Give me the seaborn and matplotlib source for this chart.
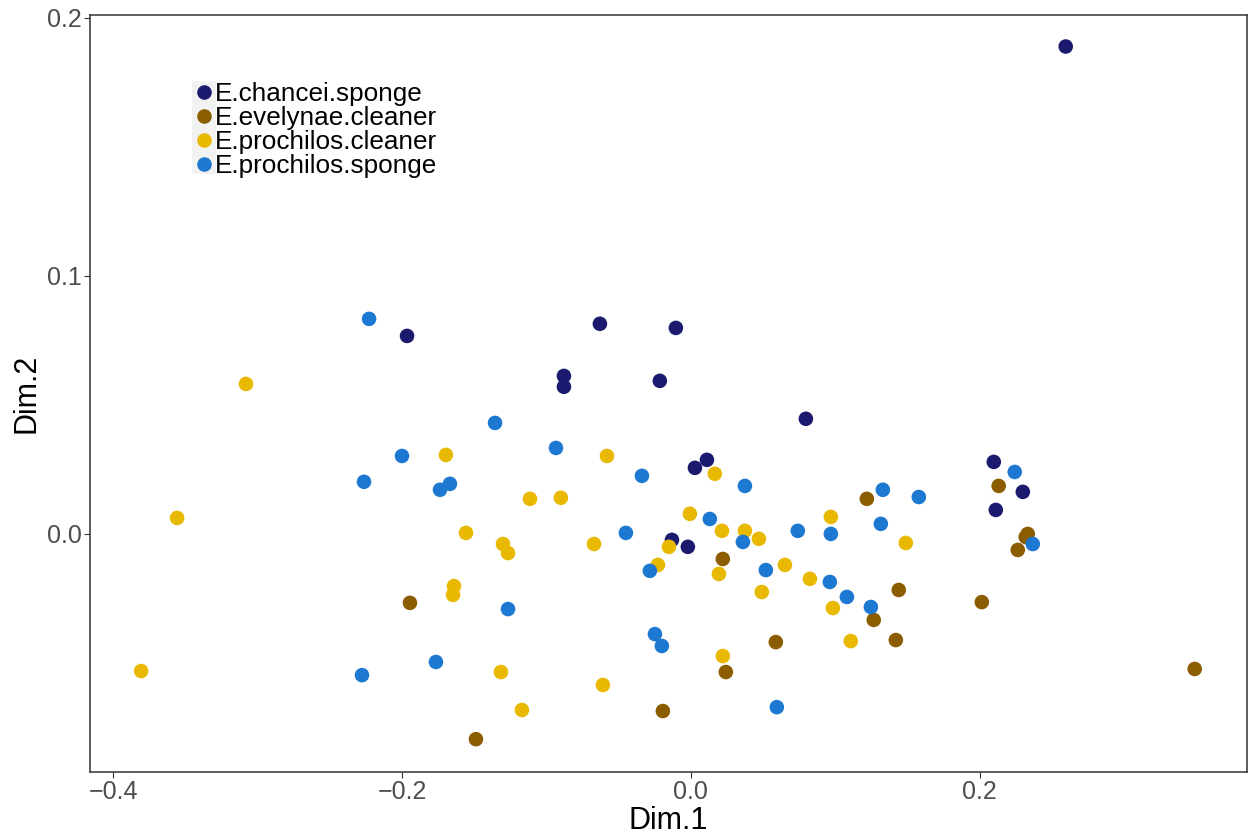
import pandas as pd
import matplotlib
matplotlib.use("Agg")
import matplotlib.pyplot as plt
import seaborn as sns
from matplotlib.patches import Rectangle

groups = ["E.chancei.sponge", "E.evelynae.cleaner", "E.prochilos.cleaner", "E.prochilos.sponge"]
colors = ["#1B1A6F", "#8C5C00", "#E8B900", "#1C78D0"]

chancei_x = [0.2595, -0.1965, -0.0630, -0.0104, -0.0879, -0.0879, -0.0215, 0.0796,
             0.0111, 0.0028, 0.2097, 0.2298, 0.2111, -0.0131, -0.0021]
chancei_y = [0.1888, 0.0767, 0.0814, 0.0798, 0.0612, 0.0570, 0.0593, 0.0446,
             0.0287, 0.0256, 0.0279, 0.0163, 0.0093, -0.0023, -0.0050]

evelynae_x = [0.3488, -0.1945, -0.1488, -0.0194, 0.0221, 0.0242, 0.0588, 0.1218,
              0.1439, 0.1266, 0.1419, 0.2014, 0.2131, 0.2332, 0.2318, 0.2263]
evelynae_y = [-0.0523, -0.0267, -0.0795, -0.0686, -0.0097, -0.0535, -0.0419, 0.0136,
              -0.0217, -0.0333, -0.0411, -0.0264, 0.0186, 0.0000, -0.0012, -0.0062]

pro_cleaner_x = [-0.3806, -0.3557, -0.3080, -0.1696, -0.1557, -0.1301, -0.1266, -0.1114,
                 -0.0900, -0.0581, -0.1640, -0.1647, -0.0671, -0.1315, -0.1170, -0.0609,
                 0.0166, -0.0007, 0.0215, -0.0152, -0.0228, 0.0194, 0.0221, 0.0374,
                 0.0471, 0.0651, 0.0491, 0.0824, 0.0969, 0.0983, 0.1107, 0.1488]
pro_cleaner_y = [-0.0531, 0.0062, 0.0581, 0.0306, 0.0004, -0.0039, -0.0074, 0.0136,
                 0.0140, 0.0302, -0.0202, -0.0236, -0.0039, -0.0535, -0.0682, -0.0585,
                 0.0233, 0.0078, 0.0012, -0.0050, -0.0120, -0.0155, -0.0473, 0.0012,
                 -0.0019, -0.0120, -0.0225, -0.0174, 0.0066, -0.0287, -0.0415, -0.0035]

pro_sponge_x = [-0.2228, -0.2263, -0.2000, -0.2277, -0.1356, -0.0934, -0.1668, -0.1737,
                -0.0339, 0.0374, -0.0450, 0.0131, 0.0360, -0.0284, -0.1266, -0.1765,
                -0.0249, -0.0201, 0.0740, 0.0969, 0.1329, 0.1578, 0.1315, 0.0519,
                0.0962, 0.1080, 0.1246, 0.0595, 0.2242, 0.2367]
pro_sponge_y = [0.0833, 0.0202, 0.0302, -0.0547, 0.0430, 0.0333, 0.0194, 0.0171,
                0.0225, 0.0186, 0.0004, 0.0058, -0.0031, -0.0143, -0.0291, -0.0496,
                -0.0388, -0.0434, 0.0012, 0.0000, 0.0171, 0.0143, 0.0039, -0.0140,
                -0.0186, -0.0244, -0.0283, -0.0671, 0.0240, -0.0039]

xs = [chancei_x, evelynae_x, pro_cleaner_x, pro_sponge_x]
ys = [chancei_y, evelynae_y, pro_cleaner_y, pro_sponge_y]
df = pd.concat([pd.DataFrame({"Dim.1": x, "Dim.2": y, "group": g})
                for g, x, y in zip(groups, xs, ys)], ignore_index=True)

sns.set_style("white")
plt.rcParams["font.family"] = ["Liberation Sans", "DejaVu Sans"]

fig = plt.figure(figsize=(12.5, 8.39), dpi=100)
ax = fig.add_axes([0.072, 0.0799, 0.9256, 0.9022])

sns.scatterplot(data=df, x="Dim.1", y="Dim.2", hue="group", hue_order=groups,
                palette=colors, s=110, linewidth=0, ax=ax)

ax.set_xlim(-0.416, 0.385)
ax.set_ylim(-0.0922, 0.201)
ax.set_xticks([-0.4, -0.2, 0.0, 0.2])
ax.set_yticks([0.0, 0.1, 0.2])
ax.set_xticklabels(["\u22120.4", "\u22120.2", "0.0", "0.2"])
ax.set_yticklabels(["0.0", "0.1", "0.2"])
ax.tick_params(axis="both", direction="out", length=4, width=0.8, color="#333333",
               labelsize=18, labelcolor="#4D4D4D", pad=2, left=True, bottom=True)
for sp in ax.spines.values():
    sp.set_color("#333333")
    sp.set_linewidth(1.1)
ax.set_xlabel("Dim.1", fontsize=22, labelpad=1, color="black")
ax.set_ylabel("Dim.2", fontsize=22, labelpad=4, color="black")

# grey key background like ggplot
ax.add_patch(Rectangle((0.0882, 0.79), 0.0207, 0.1229, transform=ax.transAxes,
                       facecolor="#F2F2F2", edgecolor="none", zorder=4))

handles, labels = ax.get_legend_handles_labels()
leg = ax.legend(handles, labels, loc="upper left", bbox_to_anchor=(0.0882, 0.9115),
                frameon=False, fontsize=18.8, handlelength=0.88, handletextpad=0.0,
                labelspacing=0.0, borderpad=0, borderaxespad=0, markerscale=1.0,
                labelcolor="black")
leg.set_zorder(5)

fig.savefig("out.png", dpi=100)
